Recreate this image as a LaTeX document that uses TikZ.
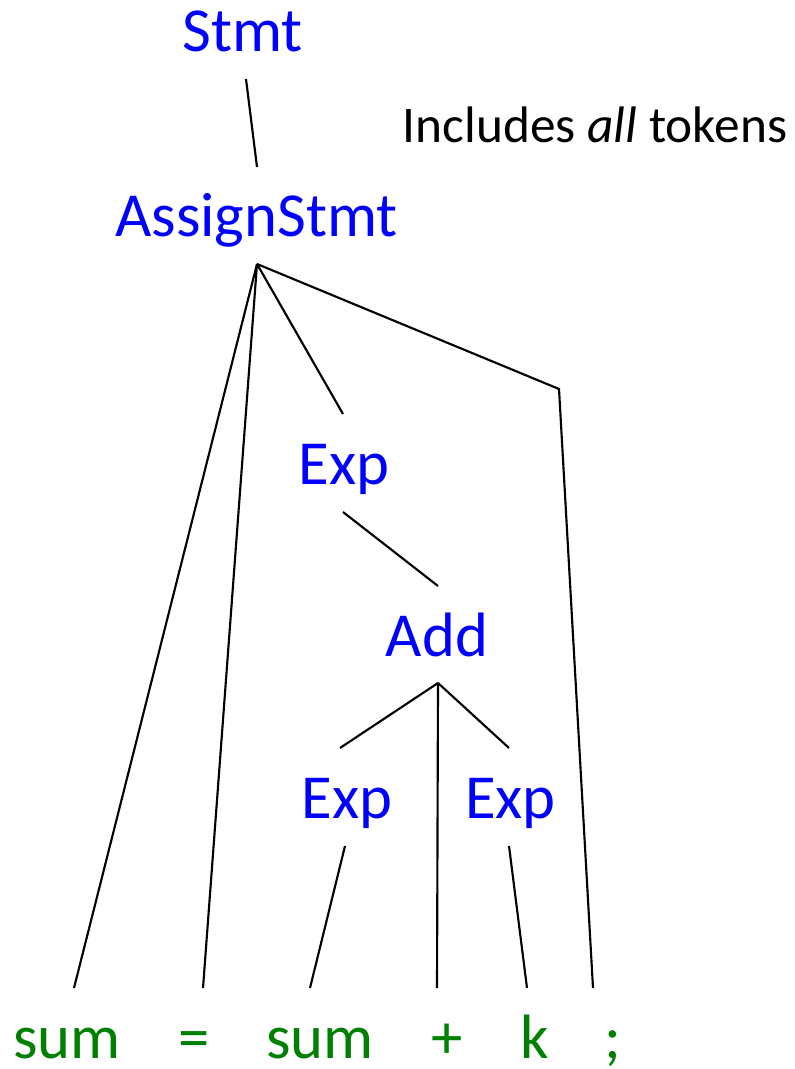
\documentclass[tikz,border=0pt]{standalone}
\usepackage{fontspec}
\setmainfont{Carlito}
\definecolor{ntblue}{RGB}{0,0,255}
\definecolor{tkgreen}{RGB}{0,128,0}
\begin{document}
\begin{tikzpicture}[x=0.75pt,y=-0.75pt,
  nt/.style={text=ntblue,font=\fontsize{47}{56}\selectfont,anchor=base,inner sep=0pt},
  tok/.style={text=tkgreen,font=\fontsize{47}{56}\selectfont,anchor=base,inner sep=0pt,text depth=0pt},
  note/.style={text=black,font=\fontsize{38.5}{46}\selectfont,anchor=base,inner sep=0pt},
  treeline/.style={line width=1.6pt,black}]
\useasboundingbox (0,0) rectangle (794,1069);
% nonterminals
\node[nt] (stmt) at (242.5,52) {Stmt};
\node[nt] (assign) at (256.5,237) {AssignStmt};
\node[nt] (exp1) at (344,484) {Exp};
\node[nt] (add) at (437,656) {Add};
\node[nt] (exp2) at (347,818) {Exp};
\node[nt] (exp3) at (510.5,818) {Exp};
% tokens
\node[tok] (t1) at (67,1058) {sum};
\node[tok] (t2) at (194.5,1058) {=};
\node[tok] (t3) at (320,1058) {sum};
\node[tok] (t4) at (447,1058) {+};
\node[tok] (t5) at (535,1058) {k};
\node[tok] (t6) at (613,1058) {;};
% note
\node[note] (inc) at (595,143) {Includes \textit{all} tokens};
% connector end points
\coordinate (stmtB) at (246,79);
\coordinate (assignT) at (257,167);
\coordinate (assignB) at (257,264);
\coordinate (exp1T) at (343,414);
\coordinate (exp1B) at (343,512);
\coordinate (addT) at (438,586);
\coordinate (addB) at (438,683);
\coordinate (exp2T) at (340,748);
\coordinate (exp3T) at (509,748);
\coordinate (exp2B) at (345,846);
\coordinate (exp3B) at (509,846);
\coordinate (bend) at (559,389);
\coordinate (t1T) at (74,988);
\coordinate (t2T) at (203,988);
\coordinate (t3T) at (310,988);
\coordinate (t4T) at (437,988);
\coordinate (t5T) at (527,988);
\coordinate (t6T) at (593,988);
% connectors
\draw[treeline] (stmtB) -- (assignT);
\draw[treeline] (assignB) -- (t1T);
\draw[treeline] (assignB) -- (t2T);
\draw[treeline] (assignB) -- (exp1T);
\draw[treeline,line join=miter] (assignB) -- (bend) -- (t6T);
\draw[treeline] (exp1B) -- (addT);
\draw[treeline] (addB) -- (exp2T);
\draw[treeline] (addB) -- (t4T);
\draw[treeline] (addB) -- (exp3T);
\draw[treeline] (exp2B) -- (t3T);
\draw[treeline] (exp3B) -- (t5T);
\end{tikzpicture}
\end{document}
